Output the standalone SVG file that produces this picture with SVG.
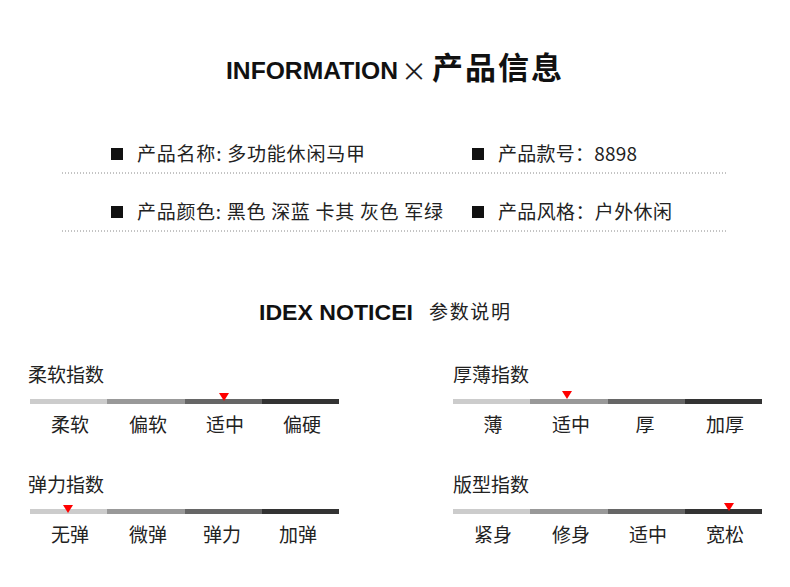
<svg xmlns="http://www.w3.org/2000/svg" width="790" height="587" viewBox="0 0 790 587">
<style>
.t{font-family:"Noto Sans CJK SC","Noto Sans",sans-serif;fill:#222;font-size:19px}
.h{font-family:"Liberation Sans","Noto Sans CJK SC",sans-serif;font-weight:bold;fill:#111}
.c{text-anchor:middle}
.dot{stroke:#888;stroke-width:1;stroke-dasharray:1,2}
</style>
<rect width="790" height="587" fill="#fff"/>
<g id="title">
<text class="h" x="226" y="79" font-size="23" textLength="172" lengthAdjust="spacingAndGlyphs">INFORMATION</text>
<text x="401" y="81" font-family="Noto Sans CJK SC,sans-serif" font-size="26" fill="#222">×</text>
<text class="h" x="432" y="79" font-size="31" font-family="Noto Sans CJK SC,sans-serif" textLength="130">产品信息</text>
</g>
<g id="info">
<rect x="111" y="148" width="12" height="12" fill="#111"/>
<text class="t" x="137" y="161" textLength="228">产品名称: 多功能休闲马甲</text>
<rect x="472" y="148" width="12" height="12" fill="#111"/>
<text class="t" x="498" y="161" textLength="139">产品款号：8898</text>
<line class="dot" x1="62" y1="173" x2="728" y2="173"/>
<rect x="111" y="206" width="12" height="12" fill="#111"/>
<text class="t" x="137" y="219" textLength="306">产品颜色: 黑色 深蓝 卡其 灰色 军绿</text>
<rect x="472" y="206" width="12" height="12" fill="#111"/>
<text class="t" x="498" y="219" textLength="174">产品风格：户外休闲</text>
<line class="dot" x1="62" y1="231" x2="728" y2="231"/>
</g>
<g id="subtitle">
<text class="h" x="259" y="320" font-size="22" textLength="154" lengthAdjust="spacingAndGlyphs">IDEX NOTICEI</text>
<text class="t" x="429" y="319" textLength="81">参数说明</text>
</g>
<defs>
<g id="bar">
<rect x="0" y="0" width="77" height="5" fill="#ccc"/>
<rect x="77" y="0" width="78" height="5" fill="#999"/>
<rect x="155" y="0" width="77" height="5" fill="#666"/>
<rect x="232" y="0" width="77" height="5" fill="#333"/>
</g>
<polygon id="tri" points="-5,0 5,0 0,8" fill="#f00"/>
</defs>
<g id="soft">
<text class="t" x="28" y="382">柔软指数</text>
<use href="#bar" x="30" y="399"/>
<use href="#tri" x="224" y="393"/>
<text class="t c" x="70" y="432">柔软</text><text class="t c" x="148" y="432">偏软</text><text class="t c" x="225" y="432">适中</text><text class="t c" x="302" y="432">偏硬</text>
</g>
<g id="thick">
<text class="t" x="453" y="382">厚薄指数</text>
<use href="#bar" x="453" y="399"/>
<use href="#tri" x="567" y="391"/>
<text class="t c" x="493" y="432">薄</text><text class="t c" x="571" y="432">适中</text><text class="t c" x="645" y="432">厚</text><text class="t c" x="725" y="432">加厚</text>
</g>
<g id="elastic">
<text class="t" x="28" y="492">弹力指数</text>
<use href="#bar" x="30" y="509"/>
<use href="#tri" x="68" y="505"/>
<text class="t c" x="70" y="542">无弹</text><text class="t c" x="148" y="542">微弹</text><text class="t c" x="222" y="542">弹力</text><text class="t c" x="298" y="542">加弹</text>
</g>
<g id="fit">
<text class="t" x="453" y="492">版型指数</text>
<use href="#bar" x="453" y="509"/>
<use href="#tri" x="729" y="503"/>
<text class="t c" x="493" y="542">紧身</text><text class="t c" x="571" y="542">修身</text><text class="t c" x="648" y="542">适中</text><text class="t c" x="725" y="542">宽松</text>
</g>
</svg>
